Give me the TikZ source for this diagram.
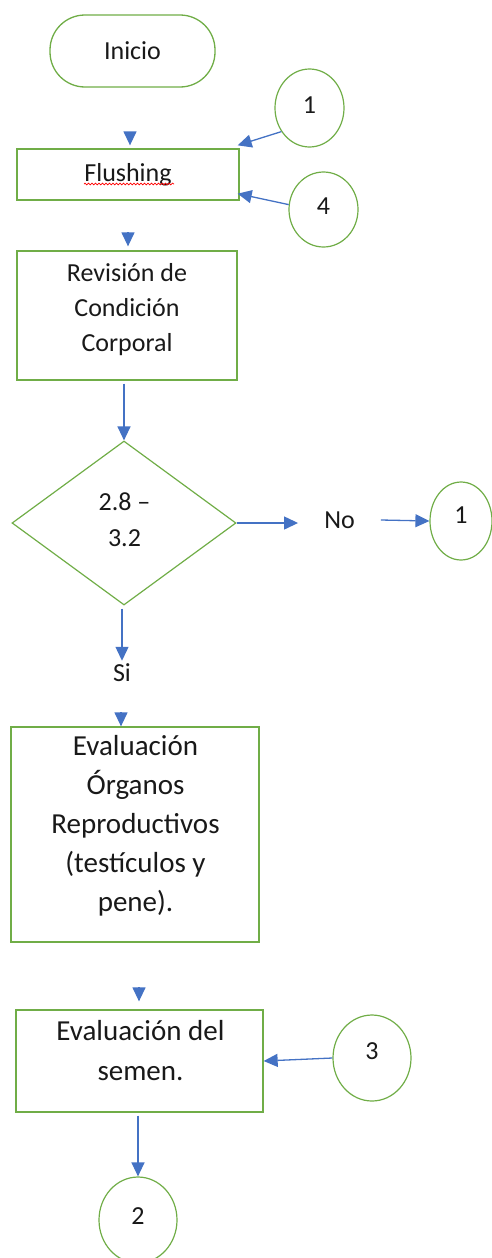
\documentclass[tikz,border=0pt]{standalone}
\usepackage{fontspec}
\setmainfont{Carlito}
\usetikzlibrary{arrows.meta,shapes.geometric,decorations.pathmorphing}
\definecolor{flowgreen}{HTML}{70AD47}
\definecolor{flowblue}{HTML}{4472C4}

\begin{document}
\begin{tikzpicture}[x=1pt,y=-1pt,
  every node/.style={font=\fontsize{26}{35}\selectfont, text=black!90},
  box/.style={rectangle, draw=flowgreen, line width=1.3pt, inner sep=0pt},
  term/.style={box, rounded corners=35pt},
  conn/.style={ellipse, draw=flowgreen, line width=1.2pt, inner sep=0pt},
  dec/.style={diamond, draw=flowgreen, line width=1.2pt, inner sep=0pt},
  txt/.style={align=center, inner sep=0pt},
  arr/.style={draw=flowblue, line width=1.3pt, -{Triangle[length=14pt,width=13pt]}},
]
\clip (0,0) rectangle (492,1258);

% process steps
\node[term, minimum width=165pt, minimum height=72pt] (inicio) at (132.5,51) {Inicio};
\node[box, minimum width=222pt, minimum height=51pt] (flush) at (128,174.5) {Flushing};
\node[box, minimum width=220pt, minimum height=129pt] (rev) at (127,315.5) {};
\node[txt] (revt) at (127,310) {Revisión de\\Condición\\Corporal};
\node[dec, minimum width=224pt, minimum height=164pt] (dia) at (124,523) {};
\node[txt, font=\fontsize{26}{36}\selectfont] (diat) at (124.5,519.5) {2.8 –\\3.2};
\node[inner xsep=26pt, inner ysep=3pt] (no) at (339.5,520) {No};
\node[inner sep=3pt] (si) at (122,673) {Si};
\node[box, minimum width=248pt, minimum height=215pt] (org) at (135,834.5) {};
\node[txt, font=\fontsize{29}{39}\selectfont] (orgt) at (135.5,825.5)
  {Evaluación\\Órganos\\Reproductivos\\(testículos y\\pene).};
\node[box, minimum width=247pt, minimum height=102pt] (sem) at (139.5,1061) {};
\node[txt, font=\fontsize{29}{40}\selectfont] (semt) at (140.5,1051) {Evaluación del\\semen.};

% page connectors
\node[conn, minimum width=69pt, minimum height=78pt, text depth=5pt] (c1a) at (309.5,108) {1};
\node[conn, minimum width=69pt, minimum height=75pt, text depth=6pt] (c4) at (323.5,209.5) {4};
\node[conn, minimum width=62pt, minimum height=78pt, text depth=12pt] (c1b) at (461,521) {1};
\node[conn, minimum width=78pt, minimum height=86pt, text depth=14pt] (c3) at (372,1058) {3};
\node[conn, minimum width=78pt, minimum height=86pt, text depth=7pt] (c2) at (138,1220) {2};

% spelling underline under "Flushing"
\draw[red, line width=0.7pt, decorate, decoration={snake, amplitude=0.9pt, segment length=3.5pt}]
  (84,184) -- (174,184);

% bare arrow heads
\coordinate (h1) at (130,132);
\draw[arr, shorten >=3pt] (h1) -- (h1 |- flush.north);
\coordinate (h2) at (128,232);
\draw[arr, shorten >=4pt] (h2) -- (h2 |- rev.north);
\coordinate (h3) at (121,712);
\draw[arr] (h3) -- (h3 |- org.north);
\coordinate (h4) at (139,987);
\draw[arr, shorten >=8pt] (h4) -- (h4 |- sem.north);

% flow arrows
\draw[arr] (c1a.220) -- ([xshift=-2pt, yshift=3pt]flush.north east);
\draw[arr] (c4.172) -- ([xshift=-2pt, yshift=7pt]flush.south east);
\draw[arr, shorten <=3pt] (rev.south -| dia.north) -- (dia.north);
\draw[arr] (dia.east) -- (dia.east -| no.west);
\draw[arr] (no.east) -- (c1b.west);
\draw[arr, shorten <=3pt] (dia.south -| si.north) -- (si.north);
\draw[arr] (c3.west) -- (sem.east);
\draw[arr, shorten <=3pt] (sem.south -| c2.north) -- (c2.north);
\end{tikzpicture}
\end{document}
